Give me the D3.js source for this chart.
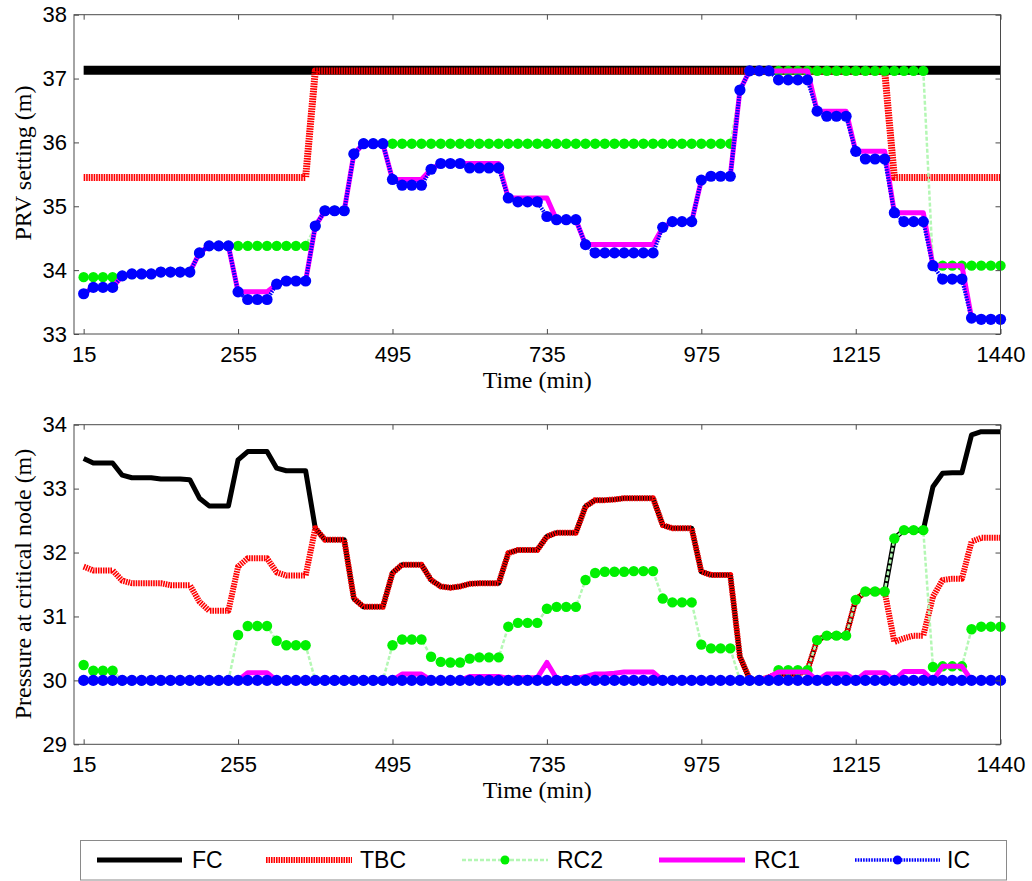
<!DOCTYPE html>
<html>
<head>
<meta charset="utf-8">
<script src="https://cdn.jsdelivr.net/npm/d3@7"></script>
<style>
  html, body { margin: 0; padding: 0; background: #fff; }
  svg { display: block; }
  .tick text { font-family: "Liberation Sans", Arial, sans-serif; font-size: 22px; fill: #000; }
</style>
</head>
<body>
<svg id="chart" width="1032" height="881"></svg>
<script>
// Time steps (minutes)
const times = [
  15, 30, 45, 60, 75, 90, 105, 120,
  135, 150, 165, 180, 195, 210, 225, 240,
  255, 270, 285, 300, 315, 330, 345, 360,
  375, 390, 405, 420, 435, 450, 465, 480,
  495, 510, 525, 540, 555, 570, 585, 600,
  615, 630, 645, 660, 675, 690, 705, 720,
  735, 750, 765, 780, 795, 810, 825, 840,
  855, 870, 885, 900, 915, 930, 945, 960,
  975, 990, 1005, 1020, 1035, 1050, 1065, 1080,
  1095, 1110, 1125, 1140, 1155, 1170, 1185, 1200,
  1215, 1230, 1245, 1260, 1275, 1290, 1305, 1320,
  1335, 1350, 1365, 1380, 1395, 1410, 1425, 1440
];
const xTickValues = [15, 255, 495, 735, 975, 1215, 1440];
const prvTicks = [33, 34, 35, 36, 37, 38];
const pressureTicks = [29, 30, 31, 32, 33, 34];
const seriesNames = ["FC", "TBC", "RC2", "RC1", "IC"];

// ---- PRV setting (m) ----
const prvFC = [
  37.13, 37.13, 37.13, 37.13, 37.13, 37.13, 37.13, 37.13,
  37.13, 37.13, 37.13, 37.13, 37.13, 37.13, 37.13, 37.13,
  37.13, 37.13, 37.13, 37.13, 37.13, 37.13, 37.13, 37.13,
  37.13, 37.13, 37.13, 37.13, 37.13, 37.13, 37.13, 37.13,
  37.13, 37.13, 37.13, 37.13, 37.13, 37.13, 37.13, 37.13,
  37.13, 37.13, 37.13, 37.13, 37.13, 37.13, 37.13, 37.13,
  37.13, 37.13, 37.13, 37.13, 37.13, 37.13, 37.13, 37.13,
  37.13, 37.13, 37.13, 37.13, 37.13, 37.13, 37.13, 37.13,
  37.13, 37.13, 37.13, 37.13, 37.13, 37.13, 37.13, 37.13,
  37.13, 37.13, 37.13, 37.13, 37.13, 37.13, 37.13, 37.13,
  37.13, 37.13, 37.13, 37.13, 37.13, 37.13, 37.13, 37.13,
  37.13, 37.13, 37.13, 37.13, 37.13, 37.13, 37.13, 37.13
];
const prvTBC = [
  35.45, 35.45, 35.45, 35.45, 35.45, 35.45, 35.45, 35.45,
  35.45, 35.45, 35.45, 35.45, 35.45, 35.45, 35.45, 35.45,
  35.45, 35.45, 35.45, 35.45, 35.45, 35.45, 35.45, 35.45,
  37.12, 37.12, 37.12, 37.12, 37.12, 37.12, 37.12, 37.12,
  37.12, 37.12, 37.12, 37.12, 37.12, 37.12, 37.12, 37.12,
  37.12, 37.12, 37.12, 37.12, 37.12, 37.12, 37.12, 37.12,
  37.12, 37.12, 37.12, 37.12, 37.12, 37.12, 37.12, 37.12,
  37.12, 37.12, 37.12, 37.12, 37.12, 37.12, 37.12, 37.12,
  37.12, 37.12, 37.12, 37.12, 37.12, 37.12, 37.12, 37.12,
  37.12, 37.12, 37.12, 37.12, 37.12, 37.12, 37.12, 37.12,
  37.12, 37.12, 37.12, 37.12, 35.45, 35.45, 35.45, 35.45,
  35.45, 35.45, 35.45, 35.45, 35.45, 35.45, 35.45, 35.45
];
const prvRC2 = [
  33.89, 33.89, 33.89, 33.89, 33.91, 33.94, 33.94, 33.94,
  33.97, 33.97, 33.97, 33.97, 34.27, 34.38, 34.38, 34.38,
  34.38, 34.38, 34.38, 34.38, 34.38, 34.38, 34.38, 34.38,
  34.69, 34.93, 34.93, 34.93, 35.82, 35.98, 35.98, 35.98,
  35.98, 35.98, 35.98, 35.98, 35.98, 35.98, 35.98, 35.98,
  35.98, 35.98, 35.98, 35.98, 35.98, 35.98, 35.98, 35.98,
  35.98, 35.98, 35.98, 35.98, 35.98, 35.98, 35.98, 35.98,
  35.98, 35.98, 35.98, 35.98, 35.98, 35.98, 35.98, 35.98,
  35.98, 35.98, 35.98, 35.98, 36.82, 37.12, 37.12, 37.12,
  37.12, 37.12, 37.12, 37.12, 37.12, 37.12, 37.12, 37.12,
  37.12, 37.12, 37.12, 37.12, 37.12, 37.12, 37.12, 37.12,
  34.07, 34.07, 34.07, 34.07, 34.07, 34.07, 34.07, 34.07
];
const prvRC1 = [
  33.63, 33.73, 33.73, 33.73, 33.91, 33.94, 33.94, 33.94,
  33.97, 33.97, 33.97, 33.97, 34.27, 34.38, 34.38, 34.38,
  33.66, 33.66, 33.66, 33.66, 33.78, 33.83, 33.83, 33.83,
  34.69, 34.93, 34.93, 34.93, 35.82, 35.98, 35.98, 35.98,
  35.42, 35.42, 35.42, 35.42, 35.58, 35.67, 35.67, 35.67,
  35.67, 35.67, 35.67, 35.67, 35.13, 35.13, 35.13, 35.13,
  35.13, 34.79, 34.79, 34.79, 34.40, 34.40, 34.40, 34.40,
  34.40, 34.40, 34.40, 34.40, 34.67, 34.76, 34.76, 34.76,
  35.41, 35.47, 35.47, 35.47, 36.82, 37.12, 37.12, 37.12,
  37.12, 37.12, 37.12, 37.12, 36.49, 36.49, 36.49, 36.49,
  35.86, 35.86, 35.86, 35.86, 34.90, 34.90, 34.90, 34.90,
  34.07, 34.07, 34.07, 34.07, 33.25, 33.23, 33.23, 33.23
];
const prvIC = [
  33.63, 33.73, 33.73, 33.73, 33.91, 33.94, 33.94, 33.94,
  33.97, 33.97, 33.97, 33.97, 34.27, 34.38, 34.38, 34.38,
  33.66, 33.54, 33.54, 33.54, 33.78, 33.83, 33.83, 33.83,
  34.69, 34.93, 34.93, 34.93, 35.82, 35.98, 35.98, 35.98,
  35.42, 35.33, 35.33, 35.33, 35.58, 35.67, 35.67, 35.67,
  35.60, 35.60, 35.60, 35.60, 35.13, 35.07, 35.07, 35.07,
  34.84, 34.79, 34.79, 34.79, 34.40, 34.27, 34.27, 34.27,
  34.27, 34.27, 34.27, 34.27, 34.67, 34.76, 34.76, 34.76,
  35.41, 35.47, 35.47, 35.47, 36.82, 37.12, 37.12, 37.12,
  36.98, 36.98, 36.98, 36.98, 36.49, 36.41, 36.41, 36.41,
  35.86, 35.74, 35.74, 35.74, 34.90, 34.76, 34.76, 34.76,
  34.07, 33.86, 33.86, 33.86, 33.25, 33.23, 33.23, 33.23
];

// ---- Pressure at critical node (m) ----
const presFC = [
  33.47, 33.40, 33.40, 33.40, 33.21, 33.17, 33.17, 33.17,
  33.15, 33.15, 33.15, 33.14, 32.85, 32.73, 32.73, 32.73,
  33.45, 33.58, 33.58, 33.58, 33.32, 33.28, 33.28, 33.28,
  32.38, 32.20, 32.20, 32.20, 31.28, 31.15, 31.15, 31.15,
  31.68, 31.81, 31.81, 31.81, 31.57, 31.47, 31.45, 31.47,
  31.51, 31.52, 31.52, 31.52, 31.99, 32.04, 32.04, 32.04,
  32.25, 32.31, 32.31, 32.31, 32.72, 32.82, 32.82, 32.83,
  32.85, 32.85, 32.85, 32.85, 32.43, 32.38, 32.38, 32.38,
  31.70, 31.65, 31.65, 31.65, 30.37, 30.02, 30.00, 30.05,
  30.10, 30.10, 30.10, 30.16, 30.63, 30.70, 30.70, 30.70,
  31.26, 31.39, 31.39, 31.39, 32.22, 32.35, 32.35, 32.35,
  33.03, 33.24, 33.25, 33.25, 33.84, 33.89, 33.89, 33.89
];
const presTBC = [
  31.78, 31.72, 31.72, 31.72, 31.56, 31.52, 31.52, 31.52,
  31.52, 31.49, 31.49, 31.49, 31.23, 31.09, 31.09, 31.09,
  31.78, 31.91, 31.91, 31.91, 31.69, 31.64, 31.64, 31.64,
  32.38, 32.20, 32.20, 32.20, 31.28, 31.15, 31.15, 31.15,
  31.68, 31.81, 31.81, 31.81, 31.57, 31.47, 31.45, 31.47,
  31.51, 31.52, 31.52, 31.52, 31.99, 32.04, 32.04, 32.04,
  32.25, 32.31, 32.31, 32.31, 32.72, 32.82, 32.82, 32.83,
  32.85, 32.85, 32.85, 32.85, 32.43, 32.38, 32.38, 32.38,
  31.70, 31.65, 31.65, 31.65, 30.37, 30.02, 30.00, 30.05,
  30.10, 30.10, 30.10, 30.16, 30.63, 30.70, 30.70, 30.70,
  31.26, 31.39, 31.39, 31.39, 30.60, 30.66, 30.70, 30.70,
  31.31, 31.57, 31.59, 31.59, 32.17, 32.23, 32.23, 32.23
];
const presRC2 = [
  30.24, 30.15, 30.15, 30.15, 30.00, 30.00, 30.00, 30.00,
  30.00, 30.00, 30.00, 30.00, 30.00, 30.00, 30.00, 30.00,
  30.71, 30.85, 30.85, 30.85, 30.62, 30.55, 30.55, 30.55,
  30.00, 30.00, 30.00, 30.00, 30.00, 30.00, 30.00, 30.00,
  30.55, 30.64, 30.64, 30.64, 30.37, 30.29, 30.28, 30.28,
  30.34, 30.36, 30.36, 30.36, 30.84, 30.90, 30.90, 30.90,
  31.12, 31.15, 31.15, 31.15, 31.57, 31.68, 31.70, 31.70,
  31.70, 31.71, 31.71, 31.71, 31.28, 31.22, 31.22, 31.22,
  30.56, 30.50, 30.50, 30.50, 30.00, 30.00, 30.00, 30.00,
  30.16, 30.16, 30.16, 30.16, 30.63, 30.70, 30.70, 30.70,
  31.26, 31.39, 31.39, 31.39, 32.22, 32.35, 32.35, 32.35,
  30.21, 30.22, 30.22, 30.22, 30.80, 30.84, 30.84, 30.84
];
const presRC1 = [
  30.00, 30.00, 30.00, 30.00, 30.00, 30.00, 30.00, 30.00,
  30.00, 30.00, 30.00, 30.00, 30.00, 30.00, 30.00, 30.00,
  30.00, 30.12, 30.12, 30.12, 30.00, 30.00, 30.00, 30.00,
  30.00, 30.00, 30.00, 30.00, 30.00, 30.00, 30.00, 30.00,
  30.00, 30.10, 30.10, 30.10, 30.00, 30.00, 30.00, 30.00,
  30.06, 30.06, 30.06, 30.06, 30.03, 30.04, 30.04, 30.04,
  30.28, 30.03, 30.03, 30.03, 30.06, 30.10, 30.10, 30.11,
  30.13, 30.13, 30.13, 30.13, 30.00, 30.00, 30.00, 30.00,
  30.00, 30.00, 30.00, 30.00, 30.00, 30.00, 30.00, 30.05,
  30.13, 30.13, 30.13, 30.13, 30.00, 30.10, 30.10, 30.10,
  30.00, 30.12, 30.12, 30.12, 30.00, 30.14, 30.14, 30.14,
  30.00, 30.22, 30.22, 30.22, 30.00, 30.00, 30.00, 30.00
];
const presIC = [
  30.00, 30.00, 30.00, 30.00, 30.00, 30.00, 30.00, 30.00,
  30.00, 30.00, 30.00, 30.00, 30.00, 30.00, 30.00, 30.00,
  30.00, 30.00, 30.00, 30.00, 30.00, 30.00, 30.00, 30.00,
  30.00, 30.00, 30.00, 30.00, 30.00, 30.00, 30.00, 30.00,
  30.00, 30.00, 30.00, 30.00, 30.00, 30.00, 30.00, 30.00,
  30.00, 30.00, 30.00, 30.00, 30.00, 30.00, 30.00, 30.00,
  30.00, 30.00, 30.00, 30.00, 30.00, 30.00, 30.00, 30.00,
  30.00, 30.00, 30.00, 30.00, 30.00, 30.00, 30.00, 30.00,
  30.00, 30.00, 30.00, 30.00, 30.00, 30.00, 30.00, 30.00,
  30.00, 30.00, 30.00, 30.00, 30.00, 30.00, 30.00, 30.00,
  30.00, 30.00, 30.00, 30.00, 30.00, 30.00, 30.00, 30.00,
  30.00, 30.00, 30.00, 30.00, 30.00, 30.00, 30.00, 30.00
];

// ---- Drawing ----
const svg = d3.select("#chart");
const plotLeft = 74, plotRight = 1000.5;
const x = d3.scaleLinear().domain([0, 1440]).range([plotLeft, plotRight]);

const GREEN = "#00f000", GREEN_LINE = "#b4f7b4", BLUE = "#0000ff", MAGENTA = "#ff00ff", RED = "#ff0000";
const frameColor = "#4a4a4a";

function styleFor(name, panel) {
  const top = panel === "prv";
  switch (name) {
    case "FC":  return { stroke: "#000", width: top ? 9 : 5, dash: null, marker: false };
    case "TBC": return { stroke: RED, width: top ? 7 : 6, dash: "1.6,0.9", marker: false };
    case "RC2": return { stroke: GREEN_LINE, width: 2.5, dash: "4,2", marker: true, fill: GREEN, r: 5.2 };
    case "RC1": return { stroke: MAGENTA, width: 5, dash: null, marker: false };
    case "IC":  return { stroke: BLUE, width: 4, dash: "1.6,1.1", marker: true, fill: BLUE, r: 5.6 };
  }
}

function drawPanel(cfg) {
  const y = d3.scaleLinear().domain(cfg.domain).range([cfg.bottom, cfg.top]);
  const g = svg.append("g");

  // series
  const line = d3.line().x(d => x(d.t)).y(d => y(d.v));
  seriesNames.forEach((name, k) => {
    const vals = cfg.series[k];
    const pts = times.map((t, i) => ({ t, v: vals[i] }));
    const s = styleFor(name, cfg.id);
    g.append("path")
      .datum(pts)
      .attr("d", line)
      .attr("fill", "none")
      .attr("stroke", s.stroke)
      .attr("stroke-width", s.width)
      .attr("stroke-dasharray", s.dash)
      .attr("stroke-linejoin", "round");
    if (s.marker) {
      g.append("g").selectAll("circle")
        .data(pts)
        .join("circle")
        .attr("cx", d => x(d.t))
        .attr("cy", d => y(d.v))
        .attr("r", s.r)
        .attr("fill", s.fill);
    }
  });

  // frame
  g.append("rect")
    .attr("x", plotLeft).attr("y", cfg.top)
    .attr("width", plotRight - plotLeft).attr("height", cfg.bottom - cfg.top)
    .attr("fill", "none").attr("stroke", frameColor).attr("stroke-width", 1);

  // axes (inward ticks on all four sides)
  const axB = g.append("g").attr("transform", `translate(0,${cfg.bottom})`)
    .call(d3.axisBottom(x).tickValues(xTickValues).tickSizeInner(-5).tickSizeOuter(0)
      .tickPadding(12).tickFormat(d3.format("d")));
  const axT = g.append("g").attr("transform", `translate(0,${cfg.top})`)
    .call(d3.axisTop(x).tickValues(xTickValues).tickSizeInner(-5).tickSizeOuter(0).tickFormat(""));
  const axL = g.append("g").attr("transform", `translate(${plotLeft},0)`)
    .call(d3.axisLeft(y).tickValues(cfg.ticks).tickSizeInner(-5).tickSizeOuter(0).tickPadding(7).tickFormat(d3.format("d")));
  const axR = g.append("g").attr("transform", `translate(${plotRight},0)`)
    .call(d3.axisRight(y).tickValues(cfg.ticks).tickSizeInner(-5).tickSizeOuter(0).tickFormat(""));
  [axB, axT, axL, axR].forEach(a => {
    a.select(".domain").remove();
    a.selectAll(".tick line").attr("stroke", frameColor);
  });

  // titles
  g.append("text")
    .attr("x", (plotLeft + plotRight) / 2).attr("y", cfg.bottom + 54)
    .attr("text-anchor", "middle")
    .attr("font-family", "'Liberation Serif', 'Times New Roman', serif")
    .attr("font-size", 24)
    .text("Time (min)");
  g.append("text")
    .attr("transform", `translate(31,${cfg.titleY}) rotate(-90)`)
    .attr("text-anchor", "middle")
    .attr("font-family", "'Liberation Serif', 'Times New Roman', serif")
    .attr("font-size", 24)
    .text(cfg.yTitle);
}

drawPanel({
  id: "prv", top: 14.7, bottom: 334, domain: [33, 38], ticks: prvTicks,
  series: [prvFC, prvTBC, prvRC2, prvRC1, prvIC],
  yTitle: "PRV setting (m)", titleY: 163
});
drawPanel({
  id: "pres", top: 424.7, bottom: 744.3, domain: [29, 34], ticks: pressureTicks,
  series: [presFC, presTBC, presRC2, presRC1, presIC],
  yTitle: "Pressure at critical node (m)", titleY: 584
});

// legend
const legend = svg.append("g");
legend.append("rect")
  .attr("x", 80.5).attr("y", 840.5).attr("width", 926).attr("height", 39.5)
  .attr("fill", "#fff").attr("stroke", "#8a8a8a").attr("stroke-width", 1);
const legendItems = [
  { name: "FC",  x0: 97,  x1: 182, tx: 192 },
  { name: "TBC", x0: 266, x1: 352, tx: 360 },
  { name: "RC2", x0: 462, x1: 548, tx: 557 },
  { name: "RC1", x0: 659, x1: 745, tx: 754 },
  { name: "IC",  x0: 855, x1: 940, tx: 947 }
];
const ly = 860;
legendItems.forEach(it => {
  const s = styleFor(it.name, "pres");
  legend.append("line")
    .attr("x1", it.x0).attr("x2", it.x1).attr("y1", ly).attr("y2", ly)
    .attr("stroke", s.stroke)
    .attr("stroke-width", it.name === "TBC" ? 6 : (it.name === "IC" ? 3.5 : s.width))
    .attr("stroke-dasharray", s.dash);
  if (s.marker) {
    legend.append("circle")
      .attr("cx", (it.x0 + it.x1) / 2).attr("cy", ly).attr("r", 4.5).attr("fill", s.fill);
  }
  legend.append("text")
    .attr("x", it.tx).attr("y", ly + 8)
    .attr("font-family", "'Liberation Sans', Arial, sans-serif")
    .attr("font-size", 23)
    .text(it.name);
});
</script>
</body>
</html>
